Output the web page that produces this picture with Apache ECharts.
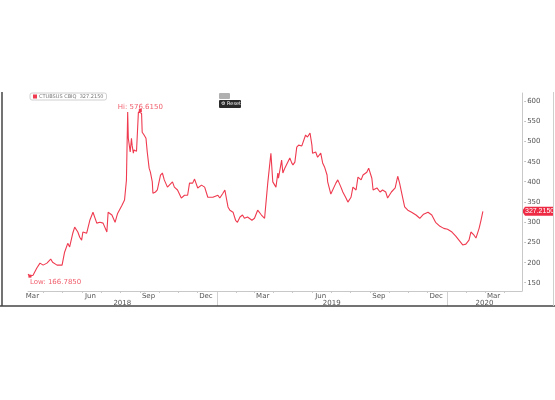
<!DOCTYPE html>
<html><head><meta charset="utf-8">
<script src="https://cdn.jsdelivr.net/npm/echarts@6/dist/echarts.min.js"></script>
<style>html,body{margin:0;padding:0;background:#fff}#c{width:555px;height:400px}</style>
</head><body><div id="c"></div>
<script>
const ticker = 'CTUBSUS CBIQ';
const dates = [
'2018-03-08','2018-03-11','2018-03-16','2018-03-22','2018-03-27','2018-04-01','2018-04-07','2018-04-13','2018-04-16','2018-04-23',
'2018-05-01','2018-05-05','2018-05-10','2018-05-13','2018-05-18','2018-05-21','2018-05-26','2018-05-29','2018-06-01','2018-06-03',
'2018-06-09','2018-06-14','2018-06-19','2018-06-25','2018-06-30','2018-07-05','2018-07-11','2018-07-13','2018-07-19','2018-07-24',
'2018-07-28','2018-08-04','2018-08-08','2018-08-11','2018-08-13','2018-08-14','2018-08-17','2018-08-19','2018-08-20','2018-08-22',
'2018-08-23','2018-08-27','2018-08-30','2018-09-02','2018-09-04','2018-09-05','2018-09-08','2018-09-11','2018-09-13','2018-09-16',
'2018-09-18','2018-09-21','2018-09-22','2018-09-26','2018-09-29','2018-10-04','2018-10-07','2018-10-10','2018-10-15','2018-10-18',
'2018-10-23','2018-10-26','2018-10-31','2018-11-06','2018-11-11','2018-11-16','2018-11-19','2018-11-24','2018-11-27','2018-12-02',
'2018-12-08','2018-12-13','2018-12-18','2018-12-26','2018-12-29','2019-01-03','2019-01-06','2019-01-11','2019-01-14','2019-01-19',
'2019-01-22','2019-01-27','2019-01-31','2019-02-03','2019-02-07','2019-02-11','2019-02-14','2019-02-19','2019-02-26','2019-03-02',
'2019-03-07','2019-03-13','2019-03-18','2019-03-23','2019-03-28','2019-03-31','2019-04-05','2019-04-08','2019-04-09','2019-04-14',
'2019-04-16','2019-04-19','2019-04-22','2019-04-27','2019-04-30','2019-05-02','2019-05-05','2019-05-08','2019-05-11','2019-05-16',
'2019-05-19','2019-05-22','2019-05-25','2019-05-29','2019-06-01','2019-06-02','2019-06-07','2019-06-10','2019-06-15','2019-06-18',
'2019-06-21','2019-06-25','2019-06-26','2019-07-01','2019-07-04','2019-07-09','2019-07-12','2019-07-17','2019-07-20','2019-07-25',
'2019-07-28','2019-08-02','2019-08-05','2019-08-10','2019-08-13','2019-08-18','2019-08-21','2019-08-27','2019-08-30','2019-09-04',
'2019-09-06','2019-09-12','2019-09-17','2019-09-21','2019-09-26','2019-09-29','2019-10-05','2019-10-11','2019-10-15','2019-10-18',
'2019-10-22','2019-10-26','2019-10-31','2019-11-06','2019-11-13','2019-11-19','2019-11-25','2019-12-02','2019-12-08','2019-12-14',
'2019-12-21','2019-12-27','2020-01-02','2020-01-09','2020-01-15','2020-01-21','2020-01-26','2020-01-31','2020-02-05','2020-02-08',
'2020-02-13','2020-02-16','2020-02-21','2020-02-24','2020-02-27'
];
const values = [
172,166.785,169,187,199,194,199,209,201,194,
194,226,248,239,273,288,276,263,256,276,
273,305,325,298,300,298,276,325,318,300,
322,342,355,404,573,508,474,508,491,471,
479,476,573,576.615,570,523,516,508,474,434,
424,400,372,375,380,417,422,405,387,385,
400,387,380,360,367,367,397,397,407,385,
392,387,362,362,360,367,360,372,380,338,
330,325,305,300,313,318,310,313,305,310,
330,318,310,397,471,400,387,422,409,454,
422,434,437,459,447,442,449,486,491,489,
486,516,511,521,491,471,474,461,471,447,
437,417,400,370,372,397,405,387,375,360,
350,362,387,380,412,405,417,424,434,409,
380,385,375,380,375,360,375,385,414,397,
367,338,330,325,318,310,320,325,318,300,
290,285,283,276,266,254,244,246,256,276,
268,261,285,305,327.215
];
const yTickValues = [150,200,250,300,350,400,450,500,550,600];
const monthLabelNames = ['Mar','Jun','Sep','Dec'];
const monthLabelNums = [3, 6, 9, 12];
const yearLabels = ['2018','2019','2020'];
const xMin = '2018-03-08', xMax = '2020-04-29';

const RED = '#ef3a4f';
const lastVal = values[values.length - 1];
const seriesName = ticker + '  ' + lastVal.toFixed(4);

const chart = echarts.init(document.getElementById('c'));
chart.setOption({
  animation: false,
  backgroundColor: '#fff',
  textStyle: { fontFamily: 'DejaVu Sans' },
  legend: {
    left: 30, top: 93, padding: [1, 3], itemGap: 0,
    icon: 'rect', itemWidth: 4, itemHeight: 4,
    borderColor: '#d0d0d0', borderWidth: 1, borderRadius: 2,
    textStyle: { fontSize: 5, color: '#777', padding: [0, 0, 0, -3] },
    data: [seriesName]
  },
  grid: { left: 28, right: 33, top: 93, bottom: 109 },
  xAxis: {
    type: 'time', min: xMin, max: xMax,
    axisLine: { lineStyle: { color: '#c8c8c8', width: 1 } },
    axisTick: { show: false }, axisLabel: { show: false }, splitLine: { show: false }
  },
  yAxis: {
    type: 'value', position: 'right', min: 130, max: 620, interval: 10,
    axisLine: { show: true, lineStyle: { color: '#c8c8c8', width: 1 } },
    axisTick: { show: false }, splitLine: { show: false },
    axisLabel: {
      margin: 2, fontSize: 7, color: '#555',
      formatter: v => (yTickValues.indexOf(v) >= 0 ? '{d|-}' + v : ''),
      rich: { d: { fontSize: 6, color: '#777', padding: [0, 1, 0, 0] } }
    }
  },
  series: [{
    name: seriesName, type: 'line',
    data: dates.map((d, i) => [d, values[i]]),
    showSymbol: false, symbol: 'none',
    lineStyle: { color: RED, width: 1.1 }, itemStyle: { color: RED },
    markPoint: {
      symbol: 'rect', symbolSize: 3, itemStyle: { color: RED },
      data: [
        { type: 'max', label: { show: true, position: 'top', distance: -2, fontSize: 7, color: '#f0606e',
          formatter: p => 'Hi: ' + p.value.toFixed(4) } },
        { type: 'min', label: { show: true, position: 'bottom', align: 'left', distance: 1, offset: [0, 0], fontSize: 7, color: '#f0606e',
          formatter: p => 'Low: ' + p.value.toFixed(4) } }
      ]
    }
  }]
});

// decorations derived from the axes
const g = [];
const px = d => chart.convertToPixel({ xAxisIndex: 0 }, d);
const py = v => chart.convertToPixel({ yAxisIndex: 0 }, v);
const axisY = py(130);
const leftX = px(xMin), rightX = px(xMax);
const txt = (x, y, s) => ({ type: 'text', x, y, style: { text: s, fontSize: 7, fill: '#555', align: 'center', verticalAlign: 'middle', fontFamily: 'DejaVu Sans' } });
for (let y = 2018; y <= 2020; y++) {
  for (let m = 1; m <= 12; m++) {
    const mm = String(m).padStart(2, '0');
    const x = px(y + '-' + mm + '-01');
    if (x > leftX && x < rightX) {
      const xr = Math.round(x) + 0.5;
      if (m === 1) g.push({ type: 'line', shape: { x1: xr, y1: axisY, x2: xr, y2: 306 }, style: { stroke: '#d0d0d0', lineWidth: 1 } });
      else g.push({ type: 'line', shape: { x1: xr, y1: axisY, x2: xr, y2: axisY + 2 }, style: { stroke: '#c8c8c8', lineWidth: 1 } });
    }
    const mi = monthLabelNums.indexOf(m);
    if (mi >= 0) {
      const xm = px(y + '-' + mm + '-15');
      if (xm > leftX && xm < rightX) g.push(txt(xm, axisY + 5, monthLabelNames[mi]));
    }
  }
}
yearLabels.forEach(yl => {
  const a = Math.max(leftX, px(yl + '-01-01'));
  const b = Math.min(rightX, px((+yl + 1) + '-01-01'));
  g.push(txt((a + b) / 2, axisY + 12, yl));
});
// last value tag
const ly = py(lastVal);
g.push({ type: 'polygon', shape: { points: [[rightX, ly], [rightX + 3, ly - 4.5], [553, ly - 4.5], [553, ly + 4.5], [rightX + 3, ly + 4.5]] }, style: { fill: '#ee2b45' } });
g.push({ type: 'text', x: rightX + 3, y: ly, style: { text: lastVal.toFixed(4), fontSize: 7, fill: '#fff', verticalAlign: 'middle', fontFamily: 'Liberation Sans' } });
// frame
g.push({ type: 'line', shape: { x1: 2, y1: 92, x2: 2, y2: 306 }, style: { stroke: '#444', lineWidth: 1.5 } });
g.push({ type: 'line', shape: { x1: 0, y1: 306, x2: 555, y2: 306 }, style: { stroke: '#444', lineWidth: 1.5 } });
g.push({ type: 'line', shape: { x1: 553.5, y1: 92, x2: 553.5, y2: 306 }, style: { stroke: '#cfcfcf', lineWidth: 1 } });
// toolbar
g.push({ type: 'rect', shape: { x: 219, y: 93, width: 11, height: 6, r: 1 }, style: { fill: '#b0b0b0' } });
g.push({ type: 'rect', shape: { x: 219, y: 100, width: 22, height: 8, r: 1 }, style: { fill: '#2b2b2b' } });
g.push({ type: 'text', x: 221, y: 104, style: { text: '⚙ Reset', fontSize: 5, fill: '#fff', verticalAlign: 'middle', fontFamily: 'DejaVu Sans' } });
chart.setOption({ graphic: g });
</script>
</body></html>
